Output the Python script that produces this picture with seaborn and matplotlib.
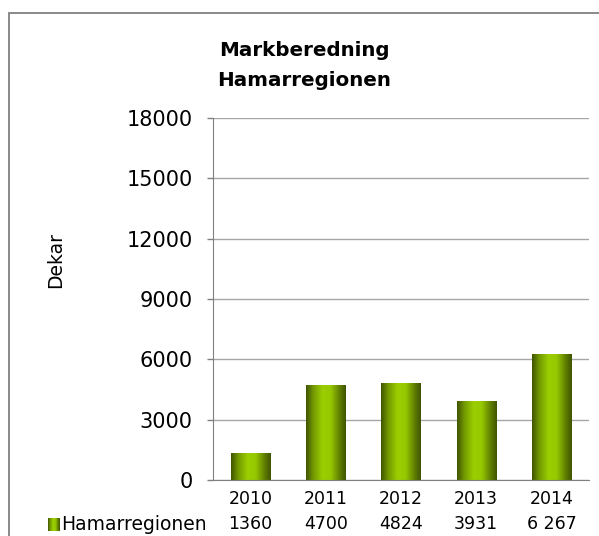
import numpy as np
import pandas as pd
import matplotlib
matplotlib.use("Agg")
import matplotlib.pyplot as plt
import matplotlib.patches as mpatches
from matplotlib.colors import LinearSegmentedColormap
import seaborn as sns

# Data
years = ["2010", "2011", "2012", "2013", "2014"]
values = [1360, 4700, 4824, 3931, 6267]
value_labels = ["1360", "4700", "4824", "3931", "6 267"]
series_name = "Hamarregionen"
y_ticks = [0, 3000, 6000, 9000, 12000, 15000, 18000]

sns.set_style("white")
plt.rcParams['font.family'] = ['DejaVu Sans']
plt.rcParams['text.color'] = 'black'
plt.rcParams['ytick.labelcolor'] = 'black'

W, H = 599, 536
fig = plt.figure(figsize=(W / 100, H / 100), dpi=100)
ax = fig.add_axes([213 / W, 1 - 480 / H, (589 - 213) / W, (480 - 118) / H])

df = pd.DataFrame({"year": years, "value": values})
sns.barplot(data=df, x="year", y="value", ax=ax, width=0.52, color="#8ab800",
            saturation=1, zorder=3)

# gradient fill for the bars (dark edges, bright centre)
grad_cmap = LinearSegmentedColormap.from_list(
    "bar_green", [(0.0, "#3f5400"), (0.18, "#729800"), (0.42, "#9ccf00"),
                  (0.62, "#96c800"), (0.85, "#5e7c00"), (1.0, "#3f5400")])
gradient = np.linspace(0, 1, 256).reshape(1, -1)
for p in ax.patches:
    x0, y0 = p.get_x(), p.get_y()
    w, h = p.get_width(), p.get_height()
    p.set_facecolor("none")
    p.set_edgecolor("none")
    im = ax.imshow(gradient, cmap=grad_cmap, aspect="auto",
                   extent=[x0, x0 + w, y0, y0 + h], zorder=3)
    im.set_clip_path(p)

ax.set_xlim(-0.5, len(years) - 0.5)
ax.set_ylim(0, 18000)
ax.set_yticks(y_ticks)
ax.set_yticklabels([str(t) for t in y_ticks], fontsize=15, color="black")
ax.set_xticks([])
ax.set_xlabel("")
ax.set_ylabel("")
ax.yaxis.grid(True, color="#a6a6a6", linewidth=1)
ax.set_axisbelow(True)
ax.tick_params(axis="y", direction="out", length=4.3, width=1, color="#808080",
               pad=10.5, left=True)
for s in ["top", "right"]:
    ax.spines[s].set_visible(False)
ax.spines["left"].set_color("#808080")
ax.spines["bottom"].set_color("#808080")
ax.spines["left"].set_zorder(4)
ax.spines["bottom"].set_zorder(4)

# data table below the axis
trans = ax.get_xaxis_transform()
for i, (yr, lab) in enumerate(zip(years, value_labels)):
    ax.text(i, -0.052, yr, transform=trans, ha="center", va="center",
            fontsize=12.5, color="black")
    ax.text(i, -0.122, lab, transform=trans, ha="center", va="center",
            fontsize=12.5, color="black")

fig.text(207 / W, 1 - 524 / H, series_name, ha="right", va="center",
         fontsize=13.5, color="black")
leg_ax = fig.add_axes([48 / W, 1 - 531 / H, 12 / W, 13 / H])
leg_ax.imshow(gradient, cmap=grad_cmap, aspect="auto")
leg_ax.axis("off")

# title and axis title
fig.text(304 / W, 1 - 50 / H, "Markberedning", ha="center", va="center",
         fontsize=14.3, fontweight="bold", color="black")
fig.text(304 / W, 1 - 80 / H, "Hamarregionen", ha="center", va="center",
         fontsize=14.3, fontweight="bold", color="black")
fig.text(56 / W, 1 - 260 / H, "Dekar", rotation=90, ha="center", va="center",
         fontsize=13.5, color="black")

# chart border
border = mpatches.Rectangle((9 / W, -0.05), 1.2, 1 - 13 / H + 0.05,
                            transform=fig.transFigure, fill=False,
                            edgecolor="#808080", linewidth=1.3, clip_on=False)
fig.patches.append(border)

fig.savefig("out.png", dpi=100)
